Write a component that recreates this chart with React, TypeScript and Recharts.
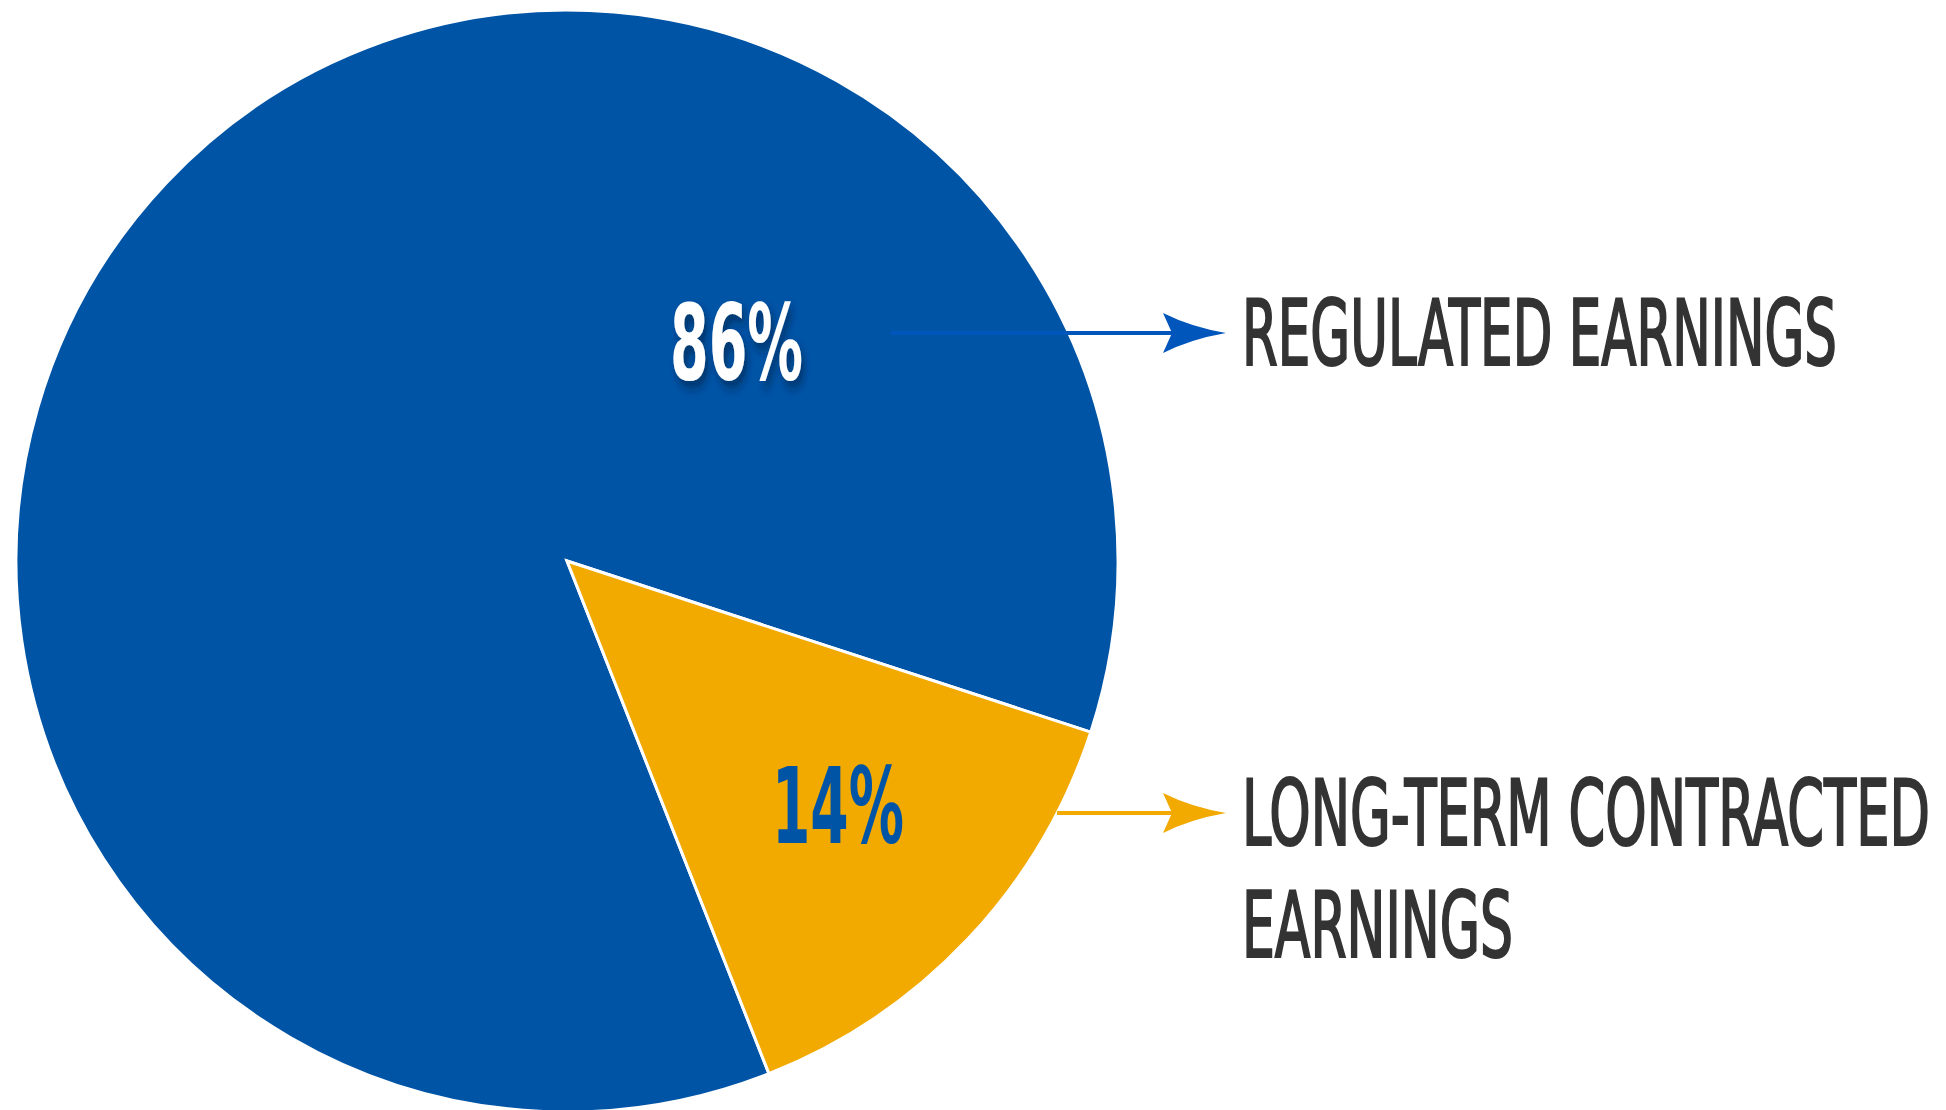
import React from 'react';
import { PieChart, Pie, Cell } from 'recharts';

const CATEGORIES = ['Regulated Earnings', 'Long-Term Contracted Earnings'];
const SHARES = [86, 14];
const LABEL_LINES = [['REGULATED EARNINGS'], ['LONG-TERM CONTRACTED', 'EARNINGS']];

const COLORS = ['#0054A6', '#F2A900'];
const ARROW_COLORS = ['#0056BA', '#F2A900'];
const PCT_COLORS = ['#FFFFFF', '#0054A6'];

// label placement, offsets from pie centre (px)
const LAYOUT = [
  { pctX: 103, pctY: -181, pctW: 133, arrowY: -228, arrowX0: 324, tipX: 659, textX: 675, textY: [-196], textW: [595] },
  { pctX: 205, pctY: 282, pctW: 132, arrowY: 252, arrowX0: 490, tipX: 659, textX: 675, textY: [284, 396], textW: [688, 271] },
];

// condensed look: smaller font stretched vertically, width pinned by textLength
const FONT = '"Liberation Sans Narrow", "DejaVu Sans Condensed", "Liberation Sans", sans-serif';
const TEXT_SIZE = 58;
const TEXT_STRETCH = 1.56;
const PCT_SIZE = 60;
const PCT_STRETCH = 1.75;

const data = CATEGORIES.map((name, i) => ({ name, value: SHARES[i] }));

export default function App() {
  const renderLabel = ({ cx, cy, index, value }: any) => {
    const l = LAYOUT[index];
    const y = cy + l.arrowY;
    const tx = cx + l.tipX;
    return (
      <g key={`lbl-${index}`}>
        <defs>
          <filter id={`shadow-${index}`} x="-20%" y="-20%" width="140%" height="140%">
            <feDropShadow dx="3" dy="4" stdDeviation="3" floodColor="#001a40" floodOpacity="0.6" />
          </filter>
        </defs>
        <text
          transform={`translate(${cx + l.pctX},${cy + l.pctY}) scale(1,${PCT_STRETCH})`}
          x={0}
          y={0}
          fill={PCT_COLORS[index]}
          fontFamily={FONT}
          fontWeight="bold"
          fontSize={PCT_SIZE}
          textLength={l.pctW}
          lengthAdjust="spacingAndGlyphs"
          filter={index === 0 ? `url(#shadow-${index})` : undefined}
        >
          {`${value}%`}
        </text>
        <line
          x1={cx + l.arrowX0}
          y1={y}
          x2={tx - 50}
          y2={y}
          stroke={ARROW_COLORS[index]}
          strokeWidth={4}
        />
        <path
          d={`M${tx},${y} Q${tx - 35},${y - 6} ${tx - 63},${y - 20} L${tx - 54},${y} L${tx - 63},${y + 20} Q${tx - 35},${y + 6} ${tx},${y} Z`}
          fill={ARROW_COLORS[index]}
        />
        {LABEL_LINES[index].map((line, j) => (
          <text
            key={j}
            transform={`translate(${cx + l.textX},${cy + l.textY[j]}) scale(1,${TEXT_STRETCH})`}
            x={0}
            y={0}
            fill="#333333"
            stroke="#333333"
            strokeWidth={1.8}
            vectorEffect="non-scaling-stroke"
            fontFamily={FONT}
            fontSize={TEXT_SIZE}
            textLength={l.textW[j]}
            lengthAdjust="spacingAndGlyphs"
          >
            {line}
          </text>
        ))}
      </g>
    );
  };

  return (
    <div style={{ position: 'absolute', left: 0, top: 0 }}>
      <PieChart width={1946} height={1110} margin={{ top: 0, right: 0, bottom: 0, left: 0 }}>
        <Pie
          data={data}
          dataKey="value"
          nameKey="name"
          cx={567}
          cy={561}
          outerRadius={551}
          startAngle={-18.1}
          endAngle={341.9}
          stroke="#FFFFFF"
          strokeWidth={3}
          label={renderLabel}
          labelLine={false}
          isAnimationActive={false}
        >
          {data.map((_, i) => (
            <Cell key={`cell-${i}`} fill={COLORS[i]} />
          ))}
        </Pie>
      </PieChart>
    </div>
  );
}
